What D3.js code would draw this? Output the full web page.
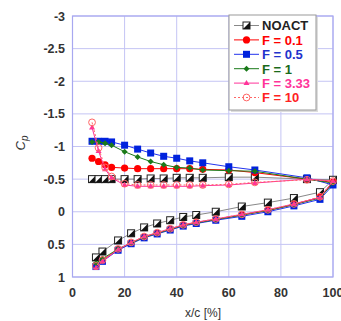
<!DOCTYPE html>
<meta charset="utf-8">
<title>Cp distribution</title>
<script src="https://cdn.jsdelivr.net/npm/d3@7"></script>
<style>
  body { margin: 0; background: #fff; }
  text { font-family: "Liberation Sans", Arial, sans-serif; }
</style>
<body>
<div id="viz"></div>
<script>
// chordwise positions of the pressure taps
const xUpper = [7.5, 10, 12.5, 15, 20, 25, 30, 35, 40, 45, 50, 60, 70, 90, 100];
const xLower = [95, 85, 75, 65, 55, 47.5, 42.5, 37.5, 32.5, 27.5, 22.5, 17.5, 11.5, 9];

const seriesNames = ["NOACT", "F = 0.1", "F = 0.5", "F = 1", "F = 3.33", "F = 10"];

// upper surface Cp (same order as xUpper)
const upNoact = [-0.5, -0.5, -0.5, -0.5, -0.5, -0.5, -0.51, -0.51, -0.52, -0.52, -0.52, -0.53, -0.53, -0.5, -0.49];
const upF01  = [-0.82, -0.77, -0.72, -0.68, -0.67, -0.66, -0.66, -0.66, -0.66, -0.66, -0.65, -0.64, -0.6, -0.5, -0.45];
const upF05  = [-1.08, -1.08, -1.08, -1.07, -1.02, -0.96, -0.9, -0.85, -0.82, -0.78, -0.75, -0.69, -0.64, -0.52, -0.41];
const upF1   = [-1.07, -1.07, -1.05, -1.02, -0.92, -0.84, -0.77, -0.72, -0.68, -0.67, -0.64, -0.63, -0.62, -0.5, -0.44];
const upF333 = [-1.29, -0.93, -0.65, -0.52, -0.41, -0.39, -0.39, -0.39, -0.39, -0.39, -0.4, -0.41, -0.44, -0.5, -0.47];
const upF10  = [-1.37, -0.98, -0.68, -0.54, -0.43, -0.41, -0.41, -0.41, -0.41, -0.41, -0.41, -0.42, -0.45, -0.49, -0.47];

// lower surface Cp (same order as xLower)
const loNoact = [-0.3, -0.21, -0.14, -0.08, 0.0, 0.05, 0.08, 0.13, 0.18, 0.24, 0.33, 0.44, 0.61, 0.7];
const loF01  = [-0.22, -0.11, -0.02, 0.05, 0.12, 0.17, 0.21, 0.27, 0.33, 0.39, 0.48, 0.58, 0.74, 0.82];
const loF05  = [-0.19, -0.09, 0.0, 0.07, 0.13, 0.18, 0.22, 0.28, 0.34, 0.4, 0.49, 0.59, 0.76, 0.84];
const loF1   = [-0.21, -0.11, -0.02, 0.05, 0.12, 0.17, 0.21, 0.27, 0.33, 0.39, 0.48, 0.57, 0.72, 0.79];
const loF333 = [-0.22, -0.12, -0.03, 0.04, 0.11, 0.16, 0.2, 0.26, 0.32, 0.38, 0.47, 0.58, 0.76, 0.86];
const loF10  = [-0.23, -0.12, -0.03, 0.04, 0.11, 0.16, 0.2, 0.26, 0.32, 0.38, 0.47, 0.57, 0.74, 0.83];

const xTicks = [0, 20, 40, 60, 80, 100];
const yTicks = [-3, -2.5, -2, -1.5, -1, -0.5, 0, 0.5, 1];

const upperAll = [upNoact, upF01, upF05, upF1, upF333, upF10];
const lowerAll = [loNoact, loF01, loF05, loF1, loF333, loF10];

const styles = [
  {color: "#222", line: "#888", marker: "halfsquare", dash: null, text: "#222"},
  {color: "#ff0000", line: "#ff0000", marker: "circle", dash: null, text: "#ff0000"},
  {color: "#0022dd", line: "#2233ee", marker: "square", dash: null, text: "#2233cc"},
  {color: "#1a7a1a", line: "#1a7a1a", marker: "diamond", dash: null, text: "#1a6a1a"},
  {color: "#ff3399", line: "#ff3399", marker: "triangle", dash: null, text: "#ff3399"},
  {color: "#ff6666", line: "#ff6666", marker: "ocircle", dash: "2,2", text: "#ff2222"}
];

const width = 341, height = 321;
const x = d3.scaleLinear().domain([0, 100]).range([72.5, 333]);
const y = d3.scaleLinear().domain([-3, 1]).range([16, 277]);

const svg = d3.select("#viz").append("svg")
  .attr("width", width).attr("height", height);

// grid
svg.append("g").selectAll("line").data(xTicks).join("line")
  .attr("x1", d => x(d)).attr("x2", d => x(d))
  .attr("y1", y(-3)).attr("y2", y(1))
  .attr("stroke", "#c4c4f4").attr("stroke-width", 1);
svg.append("g").selectAll("line").data(yTicks).join("line")
  .attr("x1", x(0)).attr("x2", x(100))
  .attr("y1", d => y(d)).attr("y2", d => y(d))
  .attr("stroke", "#c4c4f4").attr("stroke-width", 1);
svg.append("rect")
  .attr("x", x(0)).attr("y", y(-3))
  .attr("width", x(100) - x(0)).attr("height", y(1) - y(-3))
  .attr("fill", "none").attr("stroke", "#a8a8f0").attr("stroke-width", 1.2);

// tick labels
svg.append("g").selectAll("text").data(yTicks).join("text")
  .attr("x", 65).attr("y", d => y(d) + 4.5)
  .attr("text-anchor", "end").attr("font-size", 12.5).attr("font-weight", "bold").attr("fill", "#333")
  .text(d => String(d));
svg.append("g").selectAll("text").data(xTicks).join("text")
  .attr("x", d => x(d)).attr("y", 296.5)
  .attr("text-anchor", "middle").attr("font-size", 12.5).attr("font-weight", "bold").attr("fill", "#333")
  .text(d => d);

svg.append("text").attr("x", 203).attr("y", 317)
  .attr("text-anchor", "middle").attr("font-size", 12).attr("fill", "#333")
  .text("x/c [%]");
const yl = svg.append("text")
  .attr("transform", "translate(25,143) rotate(-90)")
  .attr("text-anchor", "middle").attr("font-size", 13).attr("fill", "#333")
  .attr("font-style", "italic");
yl.append("tspan").text("C");
yl.append("tspan").attr("font-size", 10).attr("dy", 3).text("p");

// markers
function drawMarker(g, type, color, cx, cy) {
  if (type === "halfsquare") {
    g.append("rect").attr("x", cx - 3.5).attr("y", cy - 3.5).attr("width", 7).attr("height", 7)
      .attr("fill", "#fff").attr("stroke", "#222").attr("stroke-width", 1);
    g.append("path").attr("d", `M${cx + 3.5},${cy - 3.5}L${cx + 3.5},${cy + 3.5}L${cx - 3.5},${cy + 3.5}Z`)
      .attr("fill", "#111");
  } else if (type === "circle") {
    g.append("circle").attr("cx", cx).attr("cy", cy).attr("r", 3.6).attr("fill", color);
  } else if (type === "square") {
    g.append("rect").attr("x", cx - 3.5).attr("y", cy - 3.5).attr("width", 7).attr("height", 7).attr("fill", color);
  } else if (type === "diamond") {
    g.append("path").attr("d", `M${cx},${cy - 3}L${cx + 3},${cy}L${cx},${cy + 3}L${cx - 3},${cy}Z`).attr("fill", color);
  } else if (type === "triangle") {
    g.append("path").attr("d", `M${cx},${cy - 3.2}L${cx + 3},${cy + 2}L${cx - 3},${cy + 2}Z`).attr("fill", color);
  } else if (type === "ocircle") {
    g.append("circle").attr("cx", cx).attr("cy", cy).attr("r", 3.4)
      .attr("fill", "none").attr("stroke", color).attr("stroke-width", 1);
  }
}

const line = d3.line().x(d => x(d[0])).y(d => y(d[1]));

seriesNames.forEach((name, i) => {
  const pts = xUpper.map((xv, j) => [xv, upperAll[i][j]])
    .concat(xLower.map((xv, j) => [xv, lowerAll[i][j]]));
  const st = styles[i];
  const g = svg.append("g");
  g.append("path").datum(pts).attr("d", line)
    .attr("fill", "none").attr("stroke", st.line).attr("stroke-width", 1)
    .attr("stroke-dasharray", st.dash);
  pts.forEach(p => drawMarker(g, st.marker, st.color, x(p[0]), y(p[1])));
});

// legend
const lg = svg.append("g");
lg.append("rect").attr("x", 231).attr("y", 17).attr("width", 87).attr("height", 95).attr("fill", "#ddd");
lg.append("rect").attr("x", 229).attr("y", 15).attr("width", 87).attr("height", 95)
  .attr("fill", "#fff").attr("stroke", "#999").attr("stroke-width", 1);
seriesNames.forEach((name, i) => {
  const st = styles[i];
  const ly = 25.5 + i * 14.4;
  lg.append("line").attr("x1", 234).attr("x2", 259).attr("y1", ly).attr("y2", ly)
    .attr("stroke", st.line).attr("stroke-width", 1).attr("stroke-dasharray", st.dash);
  drawMarker(lg, st.marker, st.color, 246.5, ly);
  lg.append("text").attr("x", 262).attr("y", ly + 4.8)
    .attr("font-size", 13).attr("font-weight", "bold").attr("fill", st.text).text(name);
});
</script>
</body>
